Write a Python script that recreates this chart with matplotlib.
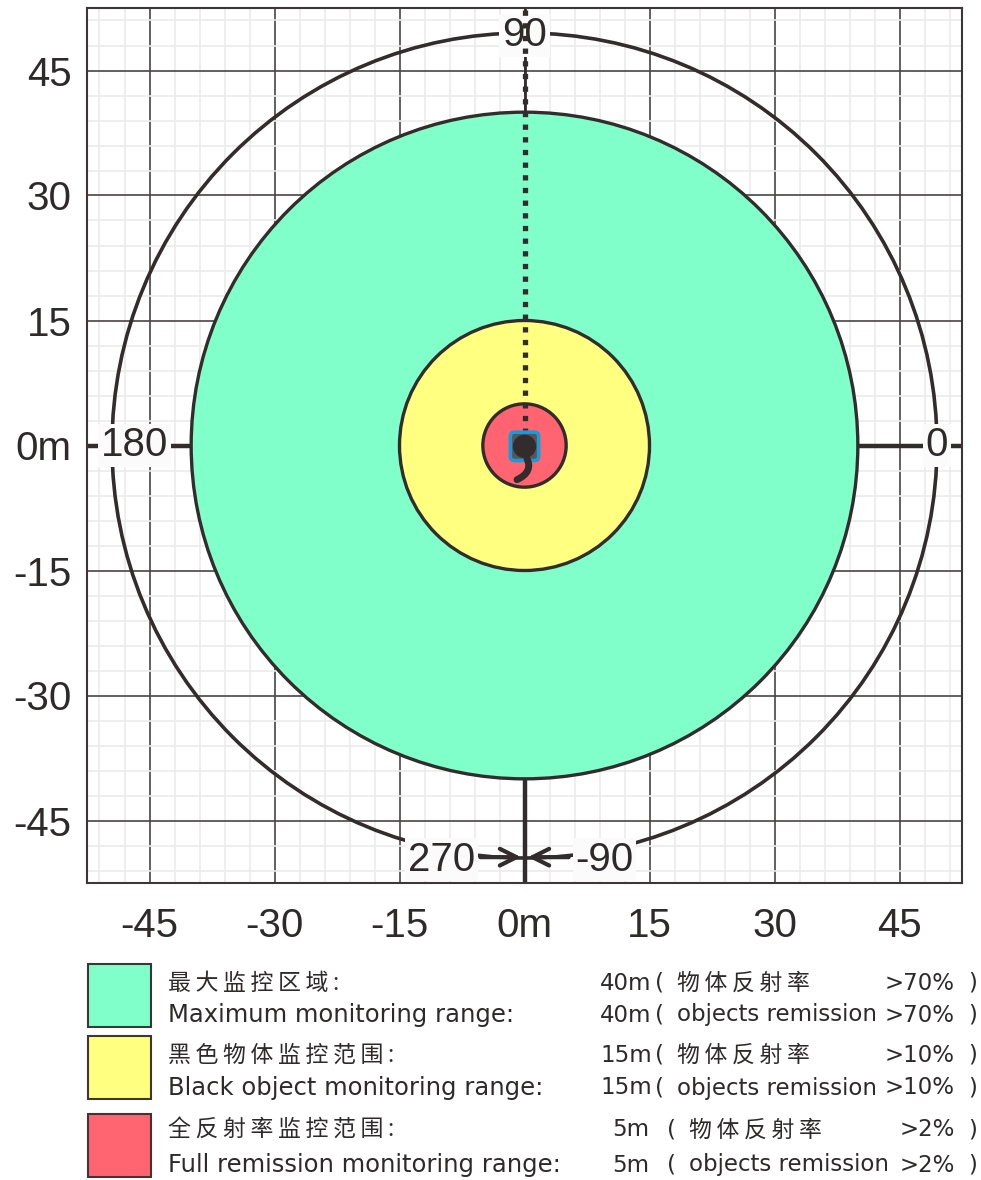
import numpy as np
import matplotlib.pyplot as plt
from matplotlib.patches import Circle, Rectangle, FancyBboxPatch
from matplotlib.path import Path
from matplotlib.patches import PathPatch

# ranges of the zones (m), colours, legend texts
ranges = [40, 15, 5]
zone_colors = ['#80ffca', '#ffff80', '#ff6470']
cn_labels = ['最大监控区域:', '黑色物体监控范围:', '全反射率监控范围:']
en_labels = ['Maximum monitoring range:', 'Black object monitoring range:',
             'Full remission monitoring range:']
range_txt = ['40m', '15m', '5m']
remission = ['>70%', '>10%', '>2%']

outer_r = 49.5
ticks = [-45, -30, -15, 0, 15, 30, 45]
xtick_labels = ['-45', '-30', '-15', '0m', '15', '30', '45']
ytick_labels = ['-45', '-30', '-15', '0m', '15', '30', '45']

dark = '#332c2c'
txt_col = '#2e2a2a'

W, H = 981, 1180
fig = plt.figure(figsize=(W / 100, H / 100), dpi=100)
ax = fig.add_axes([87 / W, 1 - 883 / H, 875 / W, 875 / H])
ax.set_xlim(-52.5, 52.5)
ax.set_ylim(-52.5, 52.5)

# grid
ax.set_xticks(ticks)
ax.set_yticks(ticks)
ax.set_xticks(np.arange(-51, 52, 3), minor=True)
ax.set_yticks(np.arange(-51, 52, 3), minor=True)
ax.grid(which='minor', color='#ebebeb', lw=1.2, zorder=0)
ax.grid(which='major', color='#4a4444', lw=1.2, zorder=0)
ax.set_axisbelow(True)
ax.tick_params(which='both', length=0)
ax.tick_params(axis='x', pad=17)
ax.tick_params(axis='y', pad=11)
ax.set_xticklabels(xtick_labels, fontsize=29, family='Liberation Sans', color=txt_col)
ax.set_yticklabels(ytick_labels, fontsize=29, family='Liberation Sans', color=txt_col)
for s in ax.spines.values():
    s.set_color('#3c3636')
    s.set_linewidth(1.5)

# outer circle and zones
ax.add_patch(Circle((0, 0), outer_r, fill=False, ec=dark, lw=2.6, zorder=2))
for r, c in zip(ranges, zone_colors):
    ax.add_patch(Circle((0, 0), r, fc=c, ec=dark, lw=2.4, zorder=3))

# direction lines
ax.plot([40, 52.5], [0, 0], color=dark, lw=3.2, zorder=2.5, solid_capstyle='butt')
ax.plot([-40, -52.5], [0, 0], color=dark, lw=3.2, zorder=2.5, solid_capstyle='butt')
ax.plot([0, 0], [-40, -52.5], color=dark, lw=3.2, zorder=2.5, solid_capstyle='butt')
ax.plot([0, 0], [40, 52.5], color=dark, lw=2.0, zorder=2.5, solid_capstyle='butt')
ax.plot([0, 0], [0, 52.5], color=dark, lw=3.8, ls=(0, (1, 1.4)),
        dash_capstyle='butt', zorder=6)

# angle labels
box = dict(fc='#fbfbfb', ec='none', pad=2)
for s, x, y in [('0', 49.5, 0), ('90', 0, 49.2), ('180', -46.8, 0),
                ('270', -10, -49.7), ('-90', 9.6, -49.7)]:
    ax.text(x, y, s, fontsize=29, family='Liberation Sans', color=txt_col,
            ha='center', va='center', bbox=box, zorder=5)
arrow = dict(arrowstyle='->,head_length=1.2,head_width=0.6', color=dark, lw=3,
             shrinkA=0, shrinkB=0)
ax.annotate('', xy=(-0.4, -49.4), xytext=(-5.3, -49.4), arrowprops=arrow, zorder=5)
ax.annotate('', xy=(0.4, -49.4), xytext=(5.3, -49.4), arrowprops=arrow, zorder=5)

# sensor at the centre
ax.add_patch(FancyBboxPatch((-1.7, -1.8), 3.4, 3.4, boxstyle='round,pad=0,rounding_size=0.5',
                            fc='#5a5555', ec='#1a9ad8', lw=2.6, zorder=7))
ax.add_patch(Circle((0, -0.1), 1.4, fc=dark, ec='none', zorder=8))
cable = Path([(0.3, -1.6), (0.8, -2.6), (0.4, -3.5), (-0.9, -4.1)],
             [Path.MOVETO, Path.CURVE4, Path.CURVE4, Path.CURVE4])
ax.add_patch(PathPatch(cable, fc='none', ec=dark, lw=5, capstyle='round', zorder=7))

# legend below the chart
def fy(py):
    return 1 - py / H

def spaced(s):
    # wide tracking for the chinese labels
    return '\u2009'.join(s)

boxes_y = [964, 1036, 1114]
cn_y = [983, 1055, 1130]
en_y = [1015, 1088, 1165]
val_x = [600, 600, 612]
fam = ['Noto Sans CJK SC', 'DejaVu Sans']
for i in range(3):
    fig.add_artist(Rectangle((88 / W, fy(boxes_y[i] + 63)), 63 / W, 63 / H,
                             transform=fig.transFigure, fc=zone_colors[i],
                             ec='#3c3636', lw=1.5))
    kw = dict(transform=fig.transFigure, color=txt_col, va='center')
    fig.text(168 / W, fy(cn_y[i]), spaced(cn_labels[i]), fontsize=16.5, family=fam, **kw)
    fig.text(168 / W, fy(en_y[i]), en_labels[i], fontsize=17.5, family='DejaVu Sans', **kw)
    for yy, mid, f in [(cn_y[i], spaced('物体反射率'), fam),
                       (en_y[i], 'objects remission', 'DejaVu Sans')]:
        fig.text(val_x[i] / W, fy(yy), range_txt[i], fontsize=16.5, family='DejaVu Sans', **kw)
        fig.text((val_x[i] + 55) / W, fy(yy), '(', fontsize=16.5, family='DejaVu Sans', **kw)
        fig.text((val_x[i] + 77) / W, fy(yy), mid, fontsize=16.5, family=f, **kw)
        fig.text(955 / W, fy(yy), remission[i], ha='right', fontsize=16.5,
                 family='DejaVu Sans', **kw)
        fig.text(968 / W, fy(yy), ')', fontsize=16.5, family='DejaVu Sans', **kw)

fig.savefig('out.png', dpi=100)
